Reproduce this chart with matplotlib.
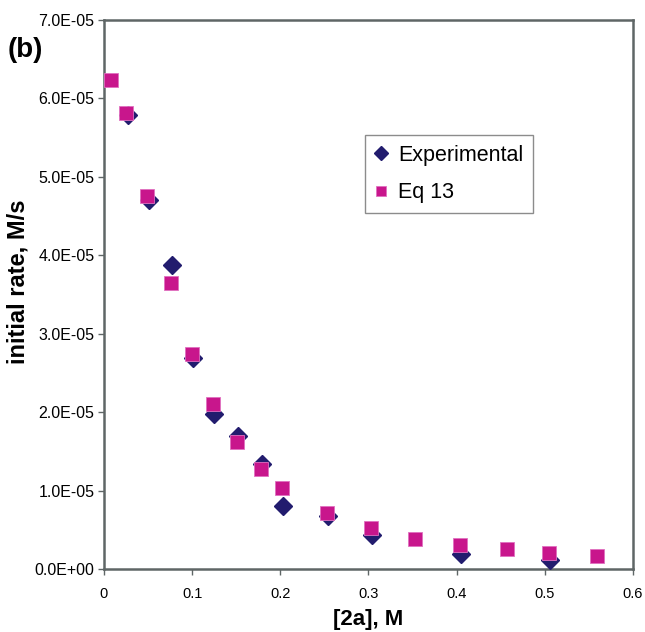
import matplotlib
matplotlib.use("Agg")
import matplotlib.pyplot as plt

plt.rcParams['font.family'] = ['Liberation Sans', 'DejaVu Sans']

# Experimental data
exp_x = [0.027, 0.051, 0.077, 0.101, 0.125, 0.152, 0.179, 0.203, 0.254, 0.304, 0.405, 0.506]
exp_y = [5.79e-5, 4.70e-5, 3.88e-5, 2.69e-5, 1.98e-5, 1.70e-5, 1.34e-5, 0.80e-5, 0.68e-5, 0.43e-5, 0.19e-5, 0.11e-5]

# Eq 13 values
eq_x = [0.008, 0.025, 0.049, 0.076, 0.100, 0.124, 0.151, 0.178, 0.202, 0.253, 0.303, 0.353, 0.404, 0.457, 0.505, 0.559]
eq_y = [6.24e-5, 5.82e-5, 4.75e-5, 3.65e-5, 2.74e-5, 2.10e-5, 1.62e-5, 1.27e-5, 1.03e-5, 0.71e-5, 0.52e-5, 0.38e-5, 0.30e-5, 0.25e-5, 0.20e-5, 0.165e-5]

x_ticks = [0, 0.1, 0.2, 0.3, 0.4, 0.5, 0.6]
x_tick_labels = ['0', '0.1', '0.2', '0.3', '0.4', '0.5', '0.6']
y_ticks = [0, 1e-5, 2e-5, 3e-5, 4e-5, 5e-5, 6e-5, 7e-5]
y_tick_labels = ['0.0E+00', '1.0E-05', '2.0E-05', '3.0E-05', '4.0E-05', '5.0E-05', '6.0E-05', '7.0E-05']

fig = plt.figure(figsize=(6.45, 6.32), dpi=100)
ax = fig.add_axes([0.1612, 0.0997, 0.8202, 0.8687])

ax.plot(exp_x, exp_y, linestyle='none', marker='D', markersize=9,
        color='#221c6e', markeredgecolor='#221c6e', label='Experimental', zorder=3)
ax.plot(eq_x, eq_y, linestyle='none', marker='s', markersize=9.5,
        color='#c8168c', markeredgecolor='#e070c0', markeredgewidth=0.6, label='Eq 13', zorder=4)

ax.set_xlim(0, 0.6)
ax.set_ylim(0, 7e-5)
ax.set_xticks(x_ticks)
ax.set_xticklabels(x_tick_labels)
ax.set_yticks(y_ticks)
ax.set_yticklabels(y_tick_labels)

spine_color = '#5f6666'
for s in ax.spines.values():
    s.set_color(spine_color)
    s.set_linewidth(1.8)

ax.tick_params(axis='both', which='major', direction='out', length=4, width=1,
               color=spine_color, labelcolor='#000000')
ax.tick_params(axis='x', pad=9, labelsize=10.5)
ax.tick_params(axis='y', pad=3, labelsize=11.5)

ax.set_xlabel('[2a], M', fontsize=16, fontweight='bold', labelpad=6)
ax.set_ylabel('initial rate, M/s', fontsize=17, fontweight='bold')
ax.yaxis.set_label_coords(-0.14, 0.523)

leg = ax.legend(loc='upper left', bbox_to_anchor=(0.493, 0.79), frameon=True, fancybox=False,
                fontsize=15.5, handlelength=0.6, handletextpad=0.5, borderpad=0.45,
                labelspacing=0.75, borderaxespad=0, markerscale=0.8)
leg.get_frame().set_edgecolor('#707070')
leg.get_frame().set_linewidth(1.0)

fig.text(0.012, 0.91, '(b)', fontsize=20, fontweight='bold')

fig.savefig('out.png', dpi=100)
